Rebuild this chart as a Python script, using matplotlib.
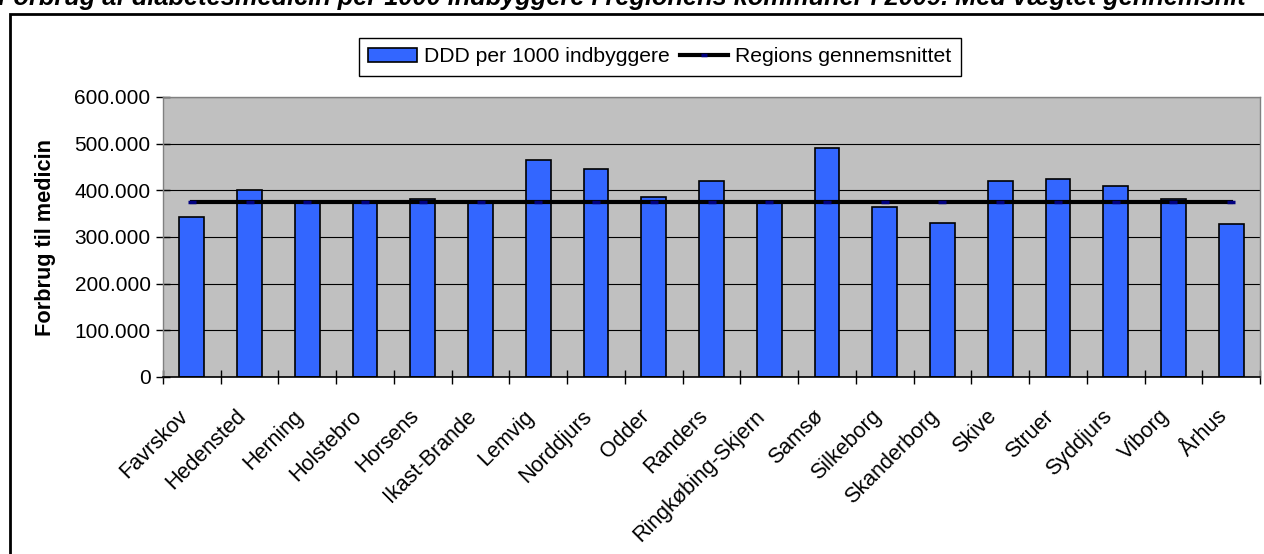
import matplotlib
matplotlib.use("Agg")
import matplotlib.pyplot as plt
from matplotlib.patches import Rectangle
from matplotlib.lines import Line2D
from matplotlib.ticker import FuncFormatter, FixedLocator
import matplotlib.transforms as mtransforms
import numpy as np

kommuner = ["Favrskov", "Hedensted", "Herning", "Holstebro", "Horsens",
            "Ikast-Brande", "Lemvig", "Norddjurs", "Odder", "Randers",
            "Ringkøbing-Skjern", "Samsø", "Silkeborg", "Skanderborg", "Skive",
            "Struer", "Syddjurs", "Viborg", "Århus"]
ddd_per_1000 = [342000, 400000, 373000, 374000, 381000,
                372000, 464000, 446000, 386000, 421000,
                373000, 490000, 364000, 331000, 421000,
                424000, 410000, 381000, 327000]
regions_gennemsnit = [375000] * len(kommuner)
y_ticks = [0, 100000, 200000, 300000, 400000, 500000, 600000]

title = ("Forbrug af diabetesmedicin per 1000 indbyggere i regionens kommuner "
         "i 2009. Med vægtet gennemsnit")

plt.rcParams["font.family"] = ["Liberation Sans", "DejaVu Sans"]

W, H = 1264, 554
fig = plt.figure(figsize=(W / 100, H / 100), dpi=100)
fig.patch.set_facecolor("white")

# chart frame
fig.patches.append(Rectangle((10 / W, -0.05), 1.2, 1 - 14 / H + 0.05,
                             transform=fig.transFigure, fill=False,
                             edgecolor="black", linewidth=2.0, zorder=0))

fig.text(-2 / W, 1 - 5 / H, title, fontsize=18.3, fontweight="bold",
         fontstyle="italic", ha="left", va="baseline")

ax = fig.add_axes([163 / W, 1 - 377 / H, (1260 - 163) / W, (377 - 97) / H])
ax.set_facecolor("#C0C0C0")

x = np.arange(len(kommuner))
ax.set_xlim(-0.5, len(kommuner) - 0.5)
ax.set_ylim(0, 600000)

ax.yaxis.set_major_locator(FixedLocator(y_ticks))
ax.yaxis.set_major_formatter(FuncFormatter(
    lambda v, p: f"{v:,.0f}".replace(",", ".")))
ax.grid(axis="y", color="black", linewidth=0.8, zorder=0)
ax.set_axisbelow(True)

ax.bar(x, ddd_per_1000, width=0.43, color="#3366FF", edgecolor="black",
       linewidth=1.2, zorder=2, label="DDD per 1000 indbyggere")
ax.plot(x, regions_gennemsnit, color="black", linewidth=3.0, zorder=3)
ax.plot(x, regions_gennemsnit, linestyle="none", marker="_", markersize=6,
        markeredgewidth=2.5, color="#000080", zorder=4)

for side in ("top", "right", "left"):
    ax.spines[side].set_color("#808080")
    ax.spines[side].set_linewidth(1.0)
ax.spines["bottom"].set_color("black")
ax.spines["bottom"].set_linewidth(1.2)

ax.set_xticks(np.arange(-0.5, len(kommuner) + 0.5, 1.0))
ax.set_xticklabels([])
ax.set_xticks(x, minor=True)
ax.set_xticklabels(kommuner, minor=True, rotation=45, ha="right",
                   va="center", rotation_mode="anchor", fontsize=15.5)
ax.tick_params(axis="x", which="major", direction="inout", length=10,
               width=1.0, color="black")
ax.tick_params(axis="x", which="minor", length=0, pad=26)
offset = mtransforms.ScaledTranslation(-7 / 100, 0, fig.dpi_scale_trans)
for lbl in ax.xaxis.get_minorticklabels():
    lbl.set_transform(lbl.get_transform() + offset)

ax.tick_params(axis="y", direction="inout", length=10, width=1.0,
               color="black", labelsize=15, pad=4)

ax.set_ylabel("Forbrug til medicin", fontsize=15.7, fontweight="bold")
ax.yaxis.set_label_coords((56 - 163) / (1260 - 163), 0.5)

handles = [Rectangle((0, 0), 1, 1, facecolor="#3366FF", edgecolor="black",
                     linewidth=1.2),
           Line2D([0], [0], color="black", linewidth=3.0, marker="_",
                  markersize=5, markeredgewidth=2.5, markeredgecolor="#000080")]
leg = fig.legend(handles, ["DDD per 1000 indbyggere", "Regions gennemsnittet"],
                 loc="center", bbox_to_anchor=(660 / W, 1 - 57 / H), ncol=2,
                 fontsize=15.2, frameon=True, fancybox=False, framealpha=1,
                 edgecolor="black", handlelength=2.3, handleheight=0.6,
                 handletextpad=0.35, columnspacing=0.45, borderpad=0.45,
                 borderaxespad=0)
leg.get_frame().set_linewidth(1.0)

fig.savefig("out.png", dpi=100)
